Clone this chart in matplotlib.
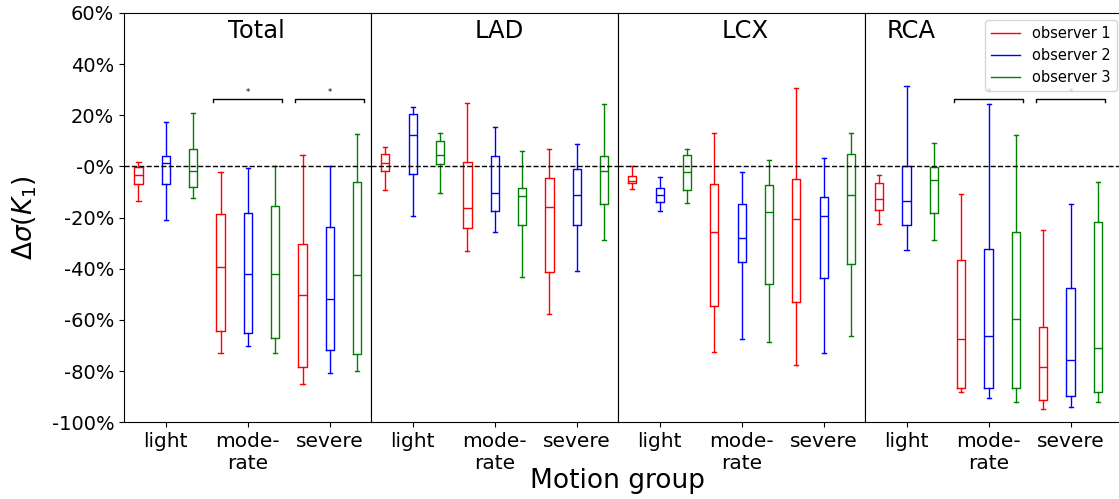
import numpy as np
import matplotlib.pyplot as plt
from matplotlib.lines import Line2D

regions = ['Total', 'LAD', 'LCX', 'RCA']
groups = ['light', 'mode-\nrate', 'severe']
observers = ['observer 1', 'observer 2', 'observer 3']
colors = ['red', 'blue', 'green']

# per observer, per motion group: whislo, q1, median, q3, whishi  (in %)
total = [
    [[-13.4, -6.9, -3.5, -0.2, 1.6], [-72.9, -64.4, -39.4, -18.8, -2.1], [-85.2, -78.5, -50.1, -30.5, 4.6]],
    [[-20.9, -6.9, 1.4, 4.1, 17.5], [-70.3, -65.2, -42.0, -18.1, -0.5], [-80.6, -71.8, -51.8, -23.5, 0.0]],
    [[-12.4, -7.9, -1.9, 6.7, 21.0], [-72.9, -66.9, -42.0, -15.4, 0.0], [-80.1, -73.2, -42.6, -6.1, 12.8]],
]
lad = [
    [[-9.4, -1.9, 1.2, 4.8, 7.7], [-33.1, -23.9, -16.2, 1.7, 24.7], [-57.9, -41.1, -16.0, -4.4, 6.8]],
    [[-19.3, -3.1, 12.3, 20.4, 23.1], [-25.7, -17.6, -10.2, 4.1, 15.4], [-40.9, -23.1, -11.1, -1.0, 8.9]],
    [[-10.3, 0.9, 4.3, 10.0, 12.9], [-43.4, -22.8, -11.7, -8.6, 6.1], [-28.9, -14.8, -1.7, 4.2, 24.3]],
]
lcx = [
    [[-8.9, -6.6, -5.8, -3.9, 0.0], [-72.4, -54.6, -25.6, -6.9, 13.2], [-77.7, -53.2, -20.7, -5.1, 30.8]],
    [[-17.6, -14.1, -11.3, -8.3, -4.3], [-67.5, -37.4, -28.1, -14.8, -2.1], [-73.0, -43.6, -19.3, -11.9, 3.1]],
    [[-14.5, -9.4, -2.3, 4.6, 6.8], [-68.7, -46.0, -18.0, -7.2, 2.6], [-66.2, -38.2, -11.2, 4.7, 13.2]],
]
rca = [
    [[-22.6, -17.1, -12.8, -6.6, -3.5], [-88.2, -86.5, -67.4, -36.4, -10.9], [-94.8, -91.5, -78.6, -62.6, -24.8]],
    [[-32.6, -23.1, -13.7, 0.0, 31.4], [-90.4, -86.5, -66.2, -32.2, 24.3], [-93.9, -89.7, -75.8, -47.7, -14.8]],
    [[-28.6, -18.4, -5.5, -0.1, 9.0], [-92.1, -86.8, -59.5, -25.8, 12.1], [-92.1, -88.4, -70.9, -21.8, -6.2]],
]
panel_data = [total, lad, lcx, rca]

# motion groups (index) marked as significant in each panel
significant = {'Total': [1, 2], 'RCA': [1, 2]}

yticks = [-100, -80, -60, -40, -20, 0, 20, 40, 60]
ytick_labels = ['-100%', '-80%', '-60%', '-40%', '-20%', '-0%', '20%', '40%', '60%']

fig, axes = plt.subplots(1, 4, figsize=(11.19, 4.99), dpi=100, sharey=True,
                         gridspec_kw=dict(width_ratios=[1, 1, 1, 1.03]))
fig.subplots_adjust(left=124/1119, right=1.0, bottom=0.154, top=0.974, wspace=0)

for i, (ax, name, data) in enumerate(zip(axes, regions, panel_data)):
    for k, obs in enumerate(data):
        stats = [dict(whislo=s[0], q1=s[1], med=s[2], q3=s[3], whishi=s[4]) for s in obs]
        pos = np.arange(1, 4) + (k - 1) / 3
        c = colors[k]
        ax.bxp(stats, positions=pos, widths=0.1, showfliers=False, manage_ticks=False,
               boxprops=dict(color=c, lw=1), whiskerprops=dict(color=c, lw=1),
               capprops=dict(color=c, lw=1), medianprops=dict(color=c, lw=1))
    ax.axhline(0, color='black', ls='--', lw=1)

    # significance brackets
    for g in significant.get(name, []):
        x0, x1 = g + 1 - 0.42, g + 1 + 0.42
        ax.plot([x0, x0, x1, x1], [25.0, 26.2, 26.2, 25.0], color='black', lw=1)
        ax.text(g + 1, 27.0, '*', ha='center', va='bottom', fontsize=6)

    xr = 3.01 * (1.03 if i == 3 else 1)
    ax.set_xlim(0.49, 0.49 + xr)
    ax.set_xticks([1, 2, 3])
    ax.set_xticklabels(groups, fontsize=14.5)
    tx = 0.085 if name == 'RCA' else 0.42
    ax.text(tx, 0.957, name, transform=ax.transAxes, fontsize=17.5, ha='left', va='center')
    if i > 0:
        ax.tick_params(axis='y', length=0)

axes[0].set_ylim(-100, 60)
axes[0].set_yticks(yticks)
axes[0].set_yticklabels(ytick_labels, fontsize=14)
axes[3].spines['right'].set_visible(False)

handles = [Line2D([], [], color=c, lw=1) for c in colors]
axes[3].legend(handles, observers, loc='upper right', bbox_to_anchor=(0.991, 0.983),
               borderaxespad=0, fontsize=10.5)

fig.text(25/1119, 1 - 218/499, r'$\Delta\sigma(K_1)$', rotation=90, ha='center', va='center', fontsize=19)
fig.text(618/1119, 1 - 481/499, 'Motion group', ha='center', va='center', fontsize=19)

plt.savefig('out.png', dpi=100)
